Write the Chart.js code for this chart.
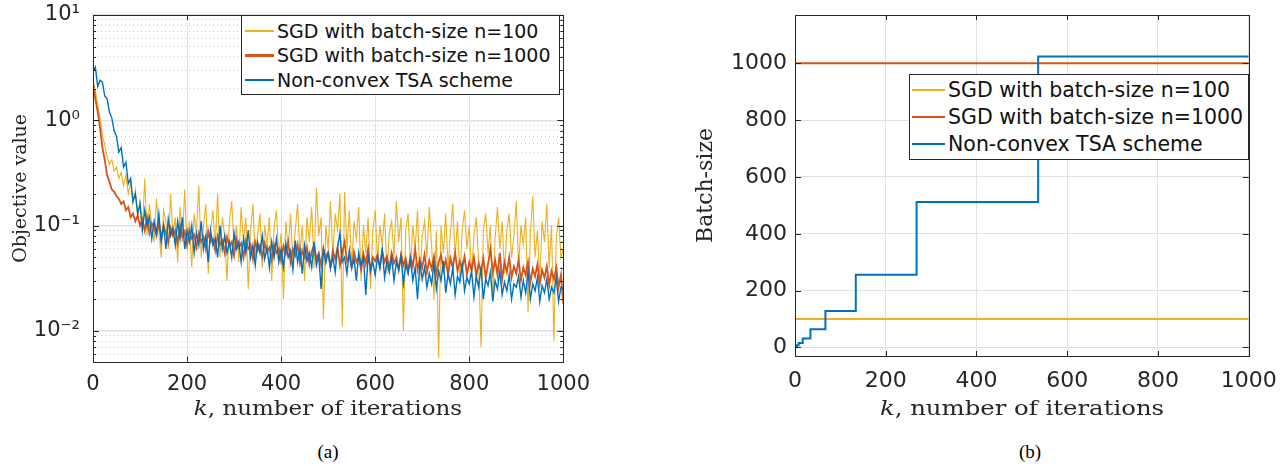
<!DOCTYPE html>
<html>
<head>
<meta charset="utf-8">
<script src="https://cdn.jsdelivr.net/npm/chart.js@4.4.0/dist/chart.umd.min.js"></script>
<style>
  html, body { margin: 0; padding: 0; background: #fff; }
  #page { position: relative; width: 1281px; height: 466px; overflow: hidden; }
  .panel { position: absolute; top: 0; }
  .panel canvas { display: block; }
  .legend { position: absolute; background: #fff; border: 1px solid #262626; box-sizing: border-box;
            font-family: 'DejaVu Sans', sans-serif; color: #111; }
  .legend .row { position: absolute; left: 0; right: 0; white-space: nowrap; }
  .legend .swatch { position: absolute; }
  .legend .txt { position: absolute; }
  .xtitle { position: absolute; width: 500px; text-align: center; font-family: 'DejaVu Serif', serif;
            color: #262626; white-space: nowrap; line-height: 24px; }
  .caption { position: absolute; width: 100px; text-align: center; font-family: 'Liberation Serif', serif;
             font-size: 19px; line-height: 20px; color: #000; }
</style>
</head>
<body>
<div id="page">
  <div class="panel" style="left:0px;width:600px;height:400px;"><canvas id="objChart" width="600" height="400"></canvas></div>
  <div class="panel" style="left:680px;width:601px;height:400px;"><canvas id="batchChart" width="601" height="400"></canvas></div>
  <div class="legend" id="objLegend" style="left:241px;top:15px;width:319px;height:80px;"></div>
  <div class="legend" id="batchLegend" style="left:909px;top:74px;width:340px;height:86px;"></div>
  <div class="xtitle" style="left:78px;top:396px;font-size:20px;transform:scaleX(1.15);"><i>k</i>, number of iterations</div>
  <div class="xtitle" style="left:772px;top:396px;font-size:21px;transform:scaleX(1.16);"><i>k</i>, number of iterations</div>
  <div class="caption" style="left:278px;top:442px;">(a)</div>
  <div class="caption" style="left:980px;top:442px;">(b)</div>
</div>
<script>
// objective value, one point every 5 iterations (k = 0, 5, ..., 1000)
const objIterStep = 5;
const objSgd100 = [
  2.3, 1.9, 1.4, 1.05, 0.72, 0.58, 0.45, 0.38, 0.42, 0.33,
  0.36, 0.28, 0.32, 0.24, 0.3, 0.2, 0.26, 0.16, 0.22, 0.12,
  0.18, 0.09, 0.28, 0.08, 0.16, 0.1, 0.07, 0.18, 0.09, 0.05,
  0.14, 0.11, 0.06, 0.2, 0.08, 0.12, 0.045, 0.15, 0.07, 0.22,
  0.06, 0.11, 0.04, 0.13, 0.085, 0.24, 0.05, 0.1, 0.16, 0.035,
  0.09, 0.14, 0.065, 0.2, 0.05, 0.12, 0.08, 0.03, 0.11, 0.17,
  0.06, 0.1, 0.045, 0.15, 0.07, 0.12, 0.025, 0.09, 0.16, 0.05,
  0.08, 0.13, 0.04, 0.1, 0.065, 0.12, 0.03, 0.095, 0.14, 0.05,
  0.085, 0.02, 0.11, 0.06, 0.13, 0.045, 0.09, 0.16, 0.055, 0.1,
  0.03, 0.12, 0.07, 0.15, 0.04, 0.23, 0.08, 0.12, 0.013, 0.1,
  0.06, 0.17, 0.05, 0.13, 0.09, 0.2, 0.011, 0.21, 0.06, 0.14,
  0.04, 0.11, 0.075, 0.15, 0.03, 0.1, 0.055, 0.12, 0.025, 0.09,
  0.14, 0.045, 0.1, 0.065, 0.13, 0.035, 0.085, 0.11, 0.05, 0.17,
  0.07, 0.12, 0.01, 0.09, 0.13, 0.04, 0.1, 0.06, 0.14, 0.03,
  0.08, 0.11, 0.05, 0.15, 0.065, 0.02, 0.09, 0.0055, 0.1, 0.055,
  0.13, 0.04, 0.085, 0.16, 0.05, 0.11, 0.03, 0.09, 0.14, 0.06,
  0.1, 0.035, 0.08, 0.12, 0.045, 0.007, 0.09, 0.13, 0.055, 0.1,
  0.02, 0.075, 0.15, 0.06, 0.11, 0.035, 0.09, 0.13, 0.05, 0.08,
  0.17, 0.04, 0.1, 0.065, 0.12, 0.015, 0.085, 0.19, 0.05, 0.09,
  0.03, 0.11, 0.07, 0.16, 0.04, 0.1, 0.008, 0.075, 0.12, 0.05,
  0.06
];
const objSgd1000 = [
  2.3, 1.6, 1.2, 0.85, 0.55, 0.42, 0.3, 0.26, 0.22, 0.21,
  0.19, 0.18, 0.16, 0.17, 0.14, 0.15, 0.12, 0.13, 0.11, 0.125,
  0.1, 0.115, 0.09, 0.12, 0.085, 0.105, 0.095, 0.08, 0.11, 0.075,
  0.1, 0.085, 0.07, 0.095, 0.08, 0.09, 0.068, 0.1, 0.078, 0.088,
  0.065, 0.09, 0.075, 0.082, 0.062, 0.085, 0.07, 0.078, 0.06, 0.088,
  0.07, 0.075, 0.058, 0.08, 0.066, 0.072, 0.055, 0.078, 0.064, 0.07,
  0.052, 0.075, 0.062, 0.068, 0.05, 0.072, 0.06, 0.066, 0.048, 0.07,
  0.058, 0.065, 0.05, 0.068, 0.056, 0.062, 0.047, 0.066, 0.055, 0.06,
  0.046, 0.064, 0.054, 0.07, 0.045, 0.06, 0.052, 0.066, 0.044, 0.058,
  0.05, 0.062, 0.043, 0.057, 0.065, 0.048, 0.055, 0.042, 0.06, 0.05,
  0.056, 0.04, 0.058, 0.048, 0.062, 0.042, 0.055, 0.07, 0.046, 0.052,
  0.04, 0.056, 0.045, 0.05, 0.038, 0.054, 0.043, 0.06, 0.037, 0.05,
  0.046, 0.053, 0.04, 0.057, 0.045, 0.051, 0.039, 0.055, 0.044, 0.05,
  0.038, 0.053, 0.042, 0.049, 0.037, 0.051, 0.041, 0.06, 0.038, 0.048,
  0.04, 0.053, 0.036, 0.047, 0.039, 0.051, 0.035, 0.045, 0.053, 0.038,
  0.047, 0.034, 0.049, 0.04, 0.055, 0.037, 0.046, 0.039, 0.051, 0.034,
  0.045, 0.038, 0.05, 0.033, 0.044, 0.037, 0.049, 0.032, 0.043, 0.06,
  0.036, 0.047, 0.034, 0.055, 0.031, 0.045, 0.036, 0.05, 0.032, 0.041,
  0.035, 0.047, 0.03, 0.04, 0.034, 0.045, 0.029, 0.039, 0.033, 0.043,
  0.028, 0.038, 0.032, 0.041, 0.027, 0.037, 0.031, 0.04, 0.026, 0.034,
  0.018
];
const objTsa = [
  2.9, 3.2, 2.1, 2.4, 2.3, 1.7, 1.6, 1.2, 1.05, 0.8,
  0.7, 0.5, 0.55, 0.36, 0.4, 0.25, 0.28, 0.17, 0.2, 0.13,
  0.16, 0.09, 0.14, 0.1, 0.12, 0.075, 0.11, 0.085, 0.13, 0.07,
  0.1, 0.06, 0.115, 0.08, 0.095, 0.065, 0.11, 0.075, 0.12, 0.06,
  0.09, 0.07, 0.1, 0.055, 0.085, 0.065, 0.11, 0.06, 0.08, 0.045,
  0.09, 0.065, 0.075, 0.05, 0.1, 0.06, 0.08, 0.055, 0.07, 0.05,
  0.085, 0.06, 0.07, 0.045, 0.075, 0.055, 0.09, 0.05, 0.065, 0.042,
  0.07, 0.055, 0.08, 0.048, 0.062, 0.04, 0.07, 0.05, 0.075, 0.045,
  0.06, 0.04, 0.068, 0.05, 0.058, 0.038, 0.072, 0.045, 0.06, 0.035,
  0.065, 0.046, 0.055, 0.04, 0.07, 0.042, 0.052, 0.025, 0.06, 0.044,
  0.055, 0.04, 0.05, 0.036, 0.062, 0.085, 0.045, 0.05, 0.035, 0.058,
  0.04, 0.048, 0.03, 0.055, 0.042, 0.05, 0.022, 0.052, 0.038, 0.045,
  0.034, 0.05, 0.04, 0.06, 0.032, 0.046, 0.036, 0.05, 0.03, 0.045,
  0.038, 0.052, 0.028, 0.043, 0.035, 0.048, 0.03, 0.04, 0.02, 0.045,
  0.031, 0.04, 0.026, 0.035, 0.028, 0.044, 0.025, 0.037, 0.03, 0.046,
  0.023, 0.035, 0.028, 0.04, 0.022, 0.033, 0.029, 0.042, 0.024, 0.032,
  0.028, 0.037, 0.021, 0.033, 0.026, 0.04, 0.02, 0.031, 0.027, 0.036,
  0.019, 0.03, 0.025, 0.037, 0.022, 0.029, 0.024, 0.034, 0.02, 0.028,
  0.026, 0.033, 0.021, 0.03, 0.023, 0.036, 0.02, 0.028, 0.024, 0.032,
  0.019, 0.027, 0.023, 0.031, 0.02, 0.026, 0.023, 0.032, 0.019, 0.026,
  0.025
];

// batch-size per iteration
const batchSgdIters = [0, 1000];
const batchSgd100 = [100, 100];
const batchSgd1000 = [1000, 1000];
const batchTsaIters = [0, 1, 2, 4, 8, 17, 34, 67, 134, 268, 536, 1000];
const batchTsa = [1, 2, 4, 8, 16, 32, 64, 128, 256, 512, 1024, 1024];

const seriesNames = ['SGD with batch-size n=100', 'SGD with batch-size n=1000', 'Non-convex TSA scheme'];
const seriesColors = ['#EDB120', '#D95319', '#0072BD'];
const objLineWidths = [1.1, 1.8, 1.4];

const iterTicks = [0, 200, 400, 600, 800, 1000];
const batchTicks = [0, 200, 400, 600, 800, 1000];
const objDecades = [0.01, 0.1, 1, 10];
const objDecadeLabels = ['10⁻²', '10⁻¹', '10⁰', '10¹'];

const AXIS = '#262626';
const NONE = 'rgba(0,0,0,0)';
Chart.defaults.font.family = "'DejaVu Sans', sans-serif";
Chart.defaults.color = AXIS;

// minor ticks for the log axis (2..9 of each decade)
const objMin = 0.0051, objMax = 10;
const objTickValues = [];
[0.001, 0.01, 0.1, 1].forEach(d => {
    for (let m = 1; m <= 9; m++) {
        const v = d * m;
        if (v >= objMin && v <= objMax) objTickValues.push(v);
    }
});
objTickValues.push(10);

function decadeIndex(v) {
    return objDecades.findIndex(d => Math.abs(d - v) < d * 1e-6);
}

// box around the axes with inward ticks, like the MATLAB figure
const framePlugin = {
    id: 'frame',
    afterDatasetsDraw(chart) {
        const { ctx, chartArea: a, scales } = chart;
        ctx.save();
        ctx.strokeStyle = AXIS;
        ctx.lineWidth = 1;
        ctx.beginPath();
        scales.x.ticks.forEach(t => {
            const px = Math.round(scales.x.getPixelForValue(t.value)) + 0.5;
            ctx.moveTo(px, a.bottom); ctx.lineTo(px, a.bottom - 5);
            ctx.moveTo(px, a.top); ctx.lineTo(px, a.top + 5);
        });
        scales.y.ticks.forEach(t => {
            const py = Math.round(scales.y.getPixelForValue(t.value)) + 0.5;
            const len = t.label ? 6 : 3;
            ctx.moveTo(a.left, py); ctx.lineTo(a.left + len, py);
            ctx.moveTo(a.right, py); ctx.lineTo(a.right - len, py);
        });
        ctx.stroke();
        ctx.strokeRect(Math.round(a.left) + 0.5, Math.round(a.top) + 0.5,
            Math.round(a.right - a.left), Math.round(a.bottom - a.top));
        ctx.restore();
    }
};

function lineSet(label, color, points, width, order, stepped) {
    return {
        label: label,
        data: points,
        borderColor: color,
        backgroundColor: color,
        borderWidth: width,
        pointRadius: 0,
        tension: 0,
        fill: false,
        stepped: stepped || false,
        order: order
    };
}

const objPoints = vals => vals.map((v, i) => ({ x: i * objIterStep, y: v }));
const xyPoints = (xs, ys) => xs.map((x, i) => ({ x: x, y: ys[i] }));

// label offset is done with invisible tick marks so it does not pad the chart area
function gridOpts(len, extra) {
    return Object.assign({ color: '#e2e2e2', lineWidth: 1, drawTicks: true, tickLength: len, tickColor: NONE }, extra || {});
}

// (a) objective value
new Chart(document.getElementById('objChart').getContext('2d'), {
    type: 'line',
    data: {
        datasets: [
            lineSet(seriesNames[0], seriesColors[0], objPoints(objSgd100), objLineWidths[0], 3),
            lineSet(seriesNames[1], seriesColors[1], objPoints(objSgd1000), objLineWidths[1], 2),
            lineSet(seriesNames[2], seriesColors[2], objPoints(objTsa), objLineWidths[2], 1)
        ]
    },
    options: {
        responsive: false,
        animation: false,
        layout: { padding: { left: 0, right: 36.7, top: 15, bottom: 0 } },
        plugins: { legend: { display: false }, tooltip: { enabled: false } },
        scales: {
            x: {
                type: 'linear',
                min: 0,
                max: 1000,
                afterBuildTicks: s => { s.ticks = iterTicks.map(v => ({ value: v })); },
                afterFit: s => { s.height = 38.3; },
                ticks: { font: { size: 21 }, padding: 0, maxRotation: 0, autoSkip: false, callback: v => String(v) },
                grid: gridOpts(10),
                border: { display: false }
            },
            y: {
                type: 'logarithmic',
                min: objMin,
                max: objMax,
                afterBuildTicks: s => { s.ticks = objTickValues.map(v => ({ value: v })); },
                afterFit: s => { s.width = 93; },
                ticks: {
                    font: { size: 21 },
                    padding: 0,
                    autoSkip: false,
                    callback: v => {
                        const i = decadeIndex(v);
                        return i >= 0 ? objDecadeLabels[i] : '';
                    }
                },
                grid: gridOpts(13, {
                    color: c => decadeIndex(c.tick.value) >= 0 ? '#e2e2e2' : '#c9c9c9',
                    lineWidth: c => decadeIndex(c.tick.value) >= 0 ? 1.5 : 1
                }),
                border: {
                    display: false,
                    dash: c => decadeIndex(c.tick.value) >= 0 ? [] : [1, 3]
                },
                title: {
                    display: true,
                    text: 'Objective value',
                    font: { family: "'DejaVu Serif', serif", size: 19 },
                    color: AXIS,
                    padding: { top: 10, bottom: 0 }
                }
            }
        }
    },
    plugins: [framePlugin]
});

// (b) batch-size
new Chart(document.getElementById('batchChart').getContext('2d'), {
    type: 'line',
    data: {
        datasets: [
            lineSet(seriesNames[0], seriesColors[0], xyPoints(batchSgdIters, batchSgd100), 2, 3),
            lineSet(seriesNames[1], seriesColors[1], xyPoints(batchSgdIters, batchSgd1000), 2, 2),
            lineSet(seriesNames[2], seriesColors[2], xyPoints(batchTsaIters, batchTsa), 2, 1, 'before')
        ]
    },
    options: {
        responsive: false,
        animation: false,
        layout: { padding: { left: 0, right: 32.3, top: 15, bottom: 0 } },
        plugins: { legend: { display: false }, tooltip: { enabled: false } },
        scales: {
            x: {
                type: 'linear',
                min: 0,
                max: 1000,
                afterBuildTicks: s => { s.ticks = iterTicks.map(v => ({ value: v })); },
                afterFit: s => { s.height = 44; },
                ticks: { font: { size: 22 }, padding: 0, maxRotation: 0, autoSkip: false, callback: v => String(v) },
                grid: gridOpts(12),
                border: { display: false }
            },
            y: {
                type: 'linear',
                min: -30,
                max: 1170,
                afterBuildTicks: s => { s.ticks = batchTicks.map(v => ({ value: v })); },
                afterFit: s => { s.width = 115; },
                ticks: { font: { size: 22 }, padding: 0, autoSkip: false, callback: v => String(v) },
                grid: gridOpts(8),
                border: { display: false },
                title: {
                    display: true,
                    text: 'Batch-size',
                    font: { family: "'DejaVu Serif', serif", size: 22 },
                    color: AXIS,
                    padding: { top: 13, bottom: 0 }
                }
            }
        }
    },
    plugins: [framePlugin]
});

// legends drawn as boxes on top of the plots
function buildLegend(id, o) {
    const box = document.getElementById(id);
    seriesNames.forEach((name, i) => {
        const row = document.createElement('div');
        row.className = 'row';
        row.style.top = (o.padTop + i * o.rowH) + 'px';
        row.style.height = o.rowH + 'px';
        const lw = o.lineW[i];
        const sw = document.createElement('span');
        sw.className = 'swatch';
        sw.style.left = o.swLeft + 'px';
        sw.style.width = o.swW + 'px';
        sw.style.top = (o.rowH / 2 - lw / 2) + 'px';
        sw.style.height = lw + 'px';
        sw.style.background = seriesColors[i];
        const tx = document.createElement('span');
        tx.className = 'txt';
        tx.style.left = o.txLeft + 'px';
        tx.style.top = '0px';
        tx.style.lineHeight = o.rowH + 'px';
        tx.style.fontSize = o.font + 'px';
        tx.textContent = name;
        row.appendChild(sw);
        row.appendChild(tx);
        box.appendChild(row);
    });
}
buildLegend('objLegend', { padTop: 2.5, rowH: 24.7, swLeft: 3, swW: 29, lineW: [1.5, 2.2, 1.5], txLeft: 35, font: 19 });
buildLegend('batchLegend', { padTop: 1.5, rowH: 27, swLeft: 2, swW: 33, lineW: [2, 2, 2], txLeft: 38, font: 20.5 });
</script>
</body>
</html>
